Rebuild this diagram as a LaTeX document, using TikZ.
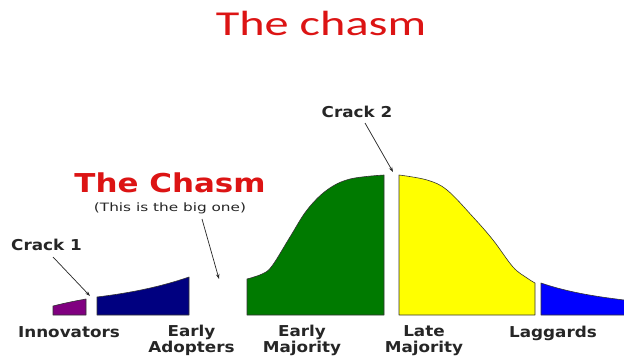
\documentclass[tikz,border=0pt]{standalone}
\usepackage{fontspec}
\setmainfont{DejaVu Sans}
\newfontfamily\titlefont{Carlito}
\usetikzlibrary{arrows.meta}
\definecolor{chred}{RGB}{220,20,20}
\definecolor{chpurple}{RGB}{128,0,128}
\definecolor{chnavy}{RGB}{0,0,128}
\definecolor{chgreen}{RGB}{0,122,0}
\definecolor{chyellow}{RGB}{255,255,0}
\definecolor{chblue}{RGB}{0,0,255}
\begin{document}
\begin{tikzpicture}[x=1pt,y=-1pt,
  seg/.style={draw=black!80,line width=0.6pt,line join=round},
  lbl/.style={font=\fontsize{15}{16}\selectfont\bfseries,text=black!85,align=center,inner sep=0pt,xscale=1.12,anchor=base},
  ptr/.style={draw=black!85,line width=0.7pt,-{Stealth[length=5pt,width=3.5pt]}}]
\useasboundingbox[fill=white] (0,0) rectangle (624,356);
% title
\node[text=chred,font=\titlefont\fontsize{35}{38}\selectfont,inner sep=0pt,anchor=base,xscale=1.38] (title) at (321,35) {The chasm};
% segments
\fill[chpurple,seg] (53,315) -- (53,306) .. controls (65,303) and (75,301) .. (86,299) -- (86,315) -- cycle;
\fill[chnavy,seg] (97,315) -- (97,297) .. controls (130,293) and (160,287) .. (189,277) -- (189,315) -- cycle;
\fill[chgreen,seg] (247,315) -- plot[smooth,tension=0.6] coordinates {(247,279) (262,274) (272,266) (290,237) (307,210) (327,190) (350,179) (384,175)} -- (384,315) -- cycle;
\fill[chyellow,seg] (399,315) -- plot[smooth,tension=0.6] coordinates {(399,175) (427,180) (447,190) (473,217) (493,240) (513,267) (527,278) (535,283)} -- (535,315) -- cycle;
\fill[chblue] (541,315) -- (541,283) .. controls (570,293) and (600,297) .. (624,300) -- (624,315) -- cycle;
\draw[seg] (624,315) -- (541,315) -- (541,283) .. controls (570,293) and (600,297) .. (624,300);
% chasm labels
\node[text=chred,font=\fontsize{26}{28}\selectfont\bfseries,inner sep=0pt,anchor=base,xscale=1.19] (chasm) at (170,192) {The Chasm};
\node[font=\fontsize{11.5}{13}\selectfont,text=black!85,inner sep=0pt,anchor=base,xscale=1.33] (bigone) at (170,211) {(This is the big one)};
\coordinate (chasmstart) at (202,219);
\coordinate (chasmtip) at (219,279);
\draw[ptr] (chasmstart) -- (chasmtip);
% crack 1
\node[lbl] (crack1) at (46.5,250) {Crack 1};
\coordinate (crack1start) at (53,257);
\coordinate (crack1tip) at (90,296);
\draw[ptr] (crack1start) -- (crack1tip);
% crack 2
\node[lbl] (crack2) at (357,117) {Crack 2};
\coordinate (crack2start) at (365,123);
\coordinate (crack2tip) at (393,172);
\draw[ptr] (crack2start) -- (crack2tip);
% bottom labels
\node[lbl] (innov) at (69,337) {Innovators};
\node[lbl] (adopt) at (191.5,352) {Early\\Adopters};
\node[lbl] (earlym) at (302,352) {Early\\Majority};
\node[lbl] (latem) at (424,352) {Late\\Majority};
\node[lbl] (lagg) at (553,337) {Laggards};
\end{tikzpicture}
\end{document}
